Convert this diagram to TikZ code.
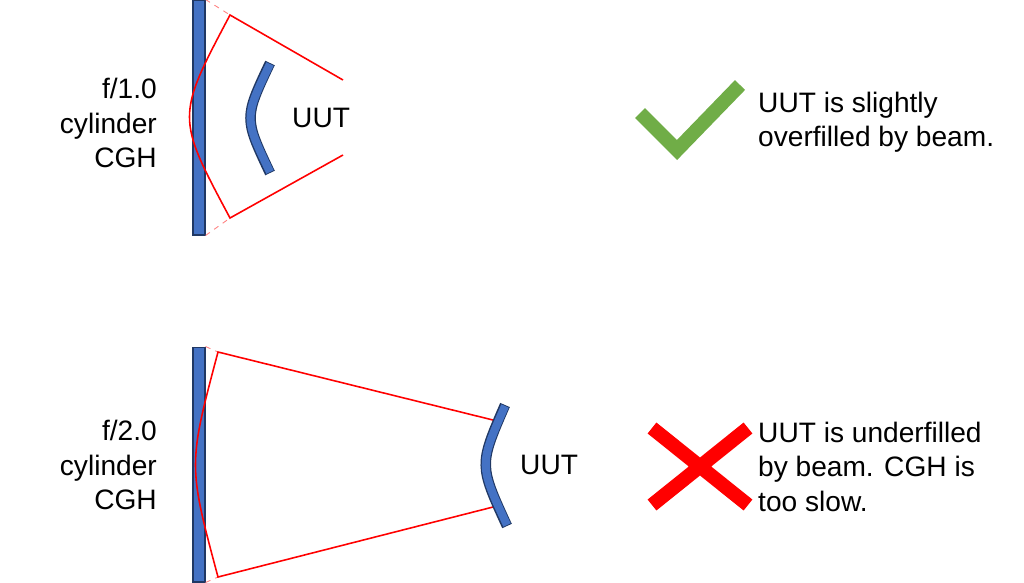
\documentclass[tikz,border=0pt]{standalone}
\usepackage{fontspec}
\setmainfont{Liberation Sans}
\usetikzlibrary{positioning}
\definecolor{plateblue}{RGB}{68,114,196}
\definecolor{platedark}{RGB}{32,56,100}
\definecolor{okgreen}{RGB}{112,173,71}
\begin{document}
\begin{tikzpicture}[x=0.02cm,y=-0.02cm,
  plate/.style={draw=platedark,fill=plateblue,line width=0.6pt,inner sep=0,
    minimum width=0.24cm,minimum height=4.7cm},
  beam/.style={red,line width=0.9pt},
  faint/.style={red!50,dashed,line width=0.5pt},
  lbl/.style={font=\fontsize{16}{19.5}\selectfont,align=left,anchor=west},
  cgh/.style={font=\fontsize{16}{19.5}\selectfont,align=right,anchor=east}]
\useasboundingbox (0,0) rectangle (1024,582);
% top case
\node[plate] (p1) at (199,117.5) {};
\coordinate (a1) at (230,15);
\coordinate (b1) at (230,218);
\coordinate (e1) at (343,80);
\coordinate (f1) at (343,155);
\draw[faint] (p1.north east) -- (a1);
\draw[faint] (p1.south east) -- (b1);
\draw[beam] (e1) -- (a1) .. controls (176,117) .. (b1) -- (f1);
\draw[platedark,line width=6pt] (270,63) .. controls (244,118) .. (270,173);
\draw[plateblue,line width=4.6pt] (270,64) .. controls (244,118) .. (270,172);
\node[lbl] (u1) at (286,118) {UUT};
\node[cgh] (c1) at (163,123) {f/1.0\\cylinder\\CGH};
\draw[okgreen,line width=8pt] (640,113) -- (677,150) -- (740,85);
\node[lbl,anchor=north west] (t1) at (752,86) {UUT is slightly\\overfilled by beam.};
% bottom case
\node[plate] (p2) at (199,464.5) {};
\coordinate (a2) at (218,352);
\coordinate (b2) at (218,577);
\coordinate (e2) at (497,421);
\coordinate (f2) at (497,506);
\draw[faint] (p2.north east) -- (a2);
\draw[faint] (p2.south east) -- (b2);
\draw[beam] (e2) -- (a2) .. controls (188,465) .. (b2) -- (f2);
\draw[platedark,line width=6pt] (505,405) .. controls (479,465) .. (507,526);
\draw[plateblue,line width=4.6pt] (505,406) .. controls (479,465) .. (507,525);
\node[lbl] (u2) at (514,465) {UUT};
\node[cgh] (c2) at (163,465) {f/2.0\\cylinder\\CGH};
\draw[red,line width=8pt] (652,428) -- (748,505) (652,505) -- (748,428);
\node[lbl,anchor=north west] (t2) at (752,416) {UUT is underfilled\\by beam. CGH is\\too slow.};
\end{tikzpicture}
\end{document}
